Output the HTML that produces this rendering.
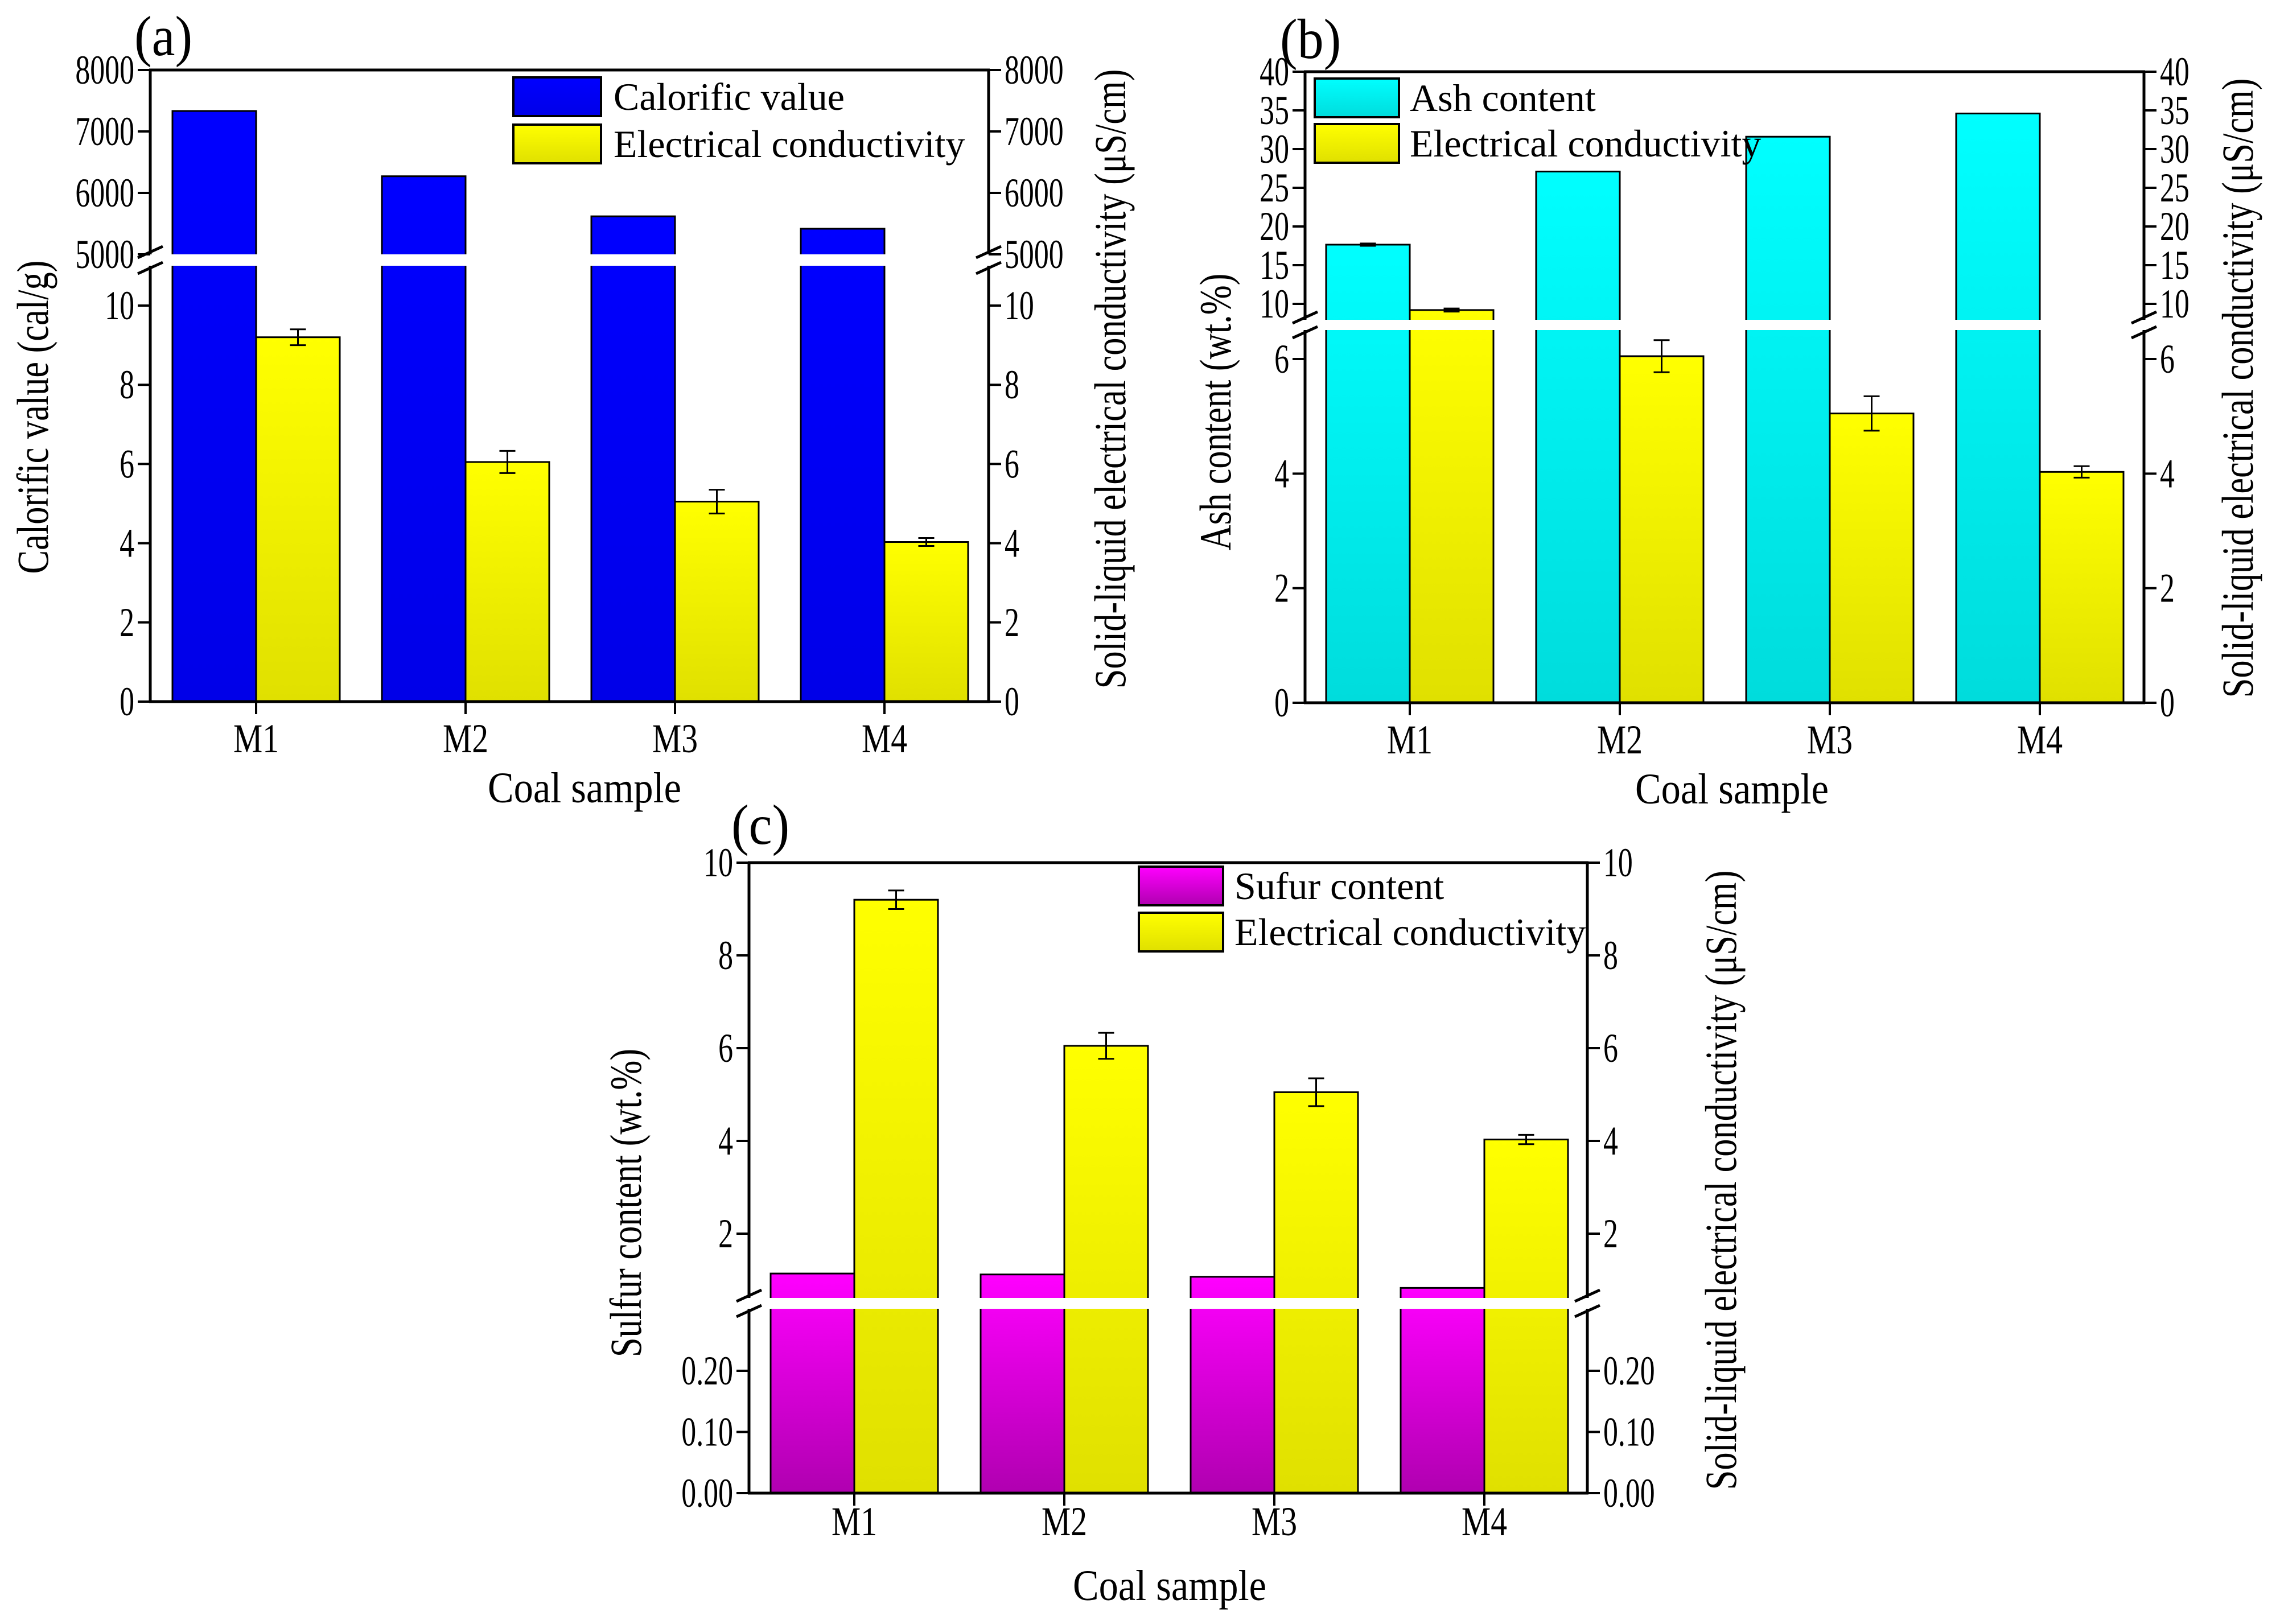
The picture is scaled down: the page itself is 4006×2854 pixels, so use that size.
<!DOCTYPE html>
<html><head><meta charset="utf-8"><style>
html,body{margin:0;padding:0;background:#fff;}
svg{display:block;font-family:"Liberation Serif",serif;}
</style></head><body>
<svg id="fig" width="4006" height="2854" viewBox="0 0 4006 2854" xmlns="http://www.w3.org/2000/svg">
<defs>
<linearGradient id="gBlue" x1="0" y1="0" x2="0" y2="1"><stop offset="0" stop-color="#0000ff"/><stop offset="1" stop-color="#0000e8"/></linearGradient>
<linearGradient id="gCyan" x1="0" y1="0" x2="0" y2="1"><stop offset="0" stop-color="#00ffff"/><stop offset="1" stop-color="#00dcdc"/></linearGradient>
<linearGradient id="gYellow" x1="0" y1="0" x2="0" y2="1"><stop offset="0" stop-color="#ffff00"/><stop offset="1" stop-color="#e0e000"/></linearGradient>
<linearGradient id="gMag" x1="0" y1="0" x2="0" y2="1"><stop offset="0" stop-color="#ff00ff"/><stop offset="1" stop-color="#b000b0"/></linearGradient>
</defs>
</svg>
<script>
// ---- data ----
const categories = ["M1","M2","M3","M4"];
const calorificValues = [7333, 6271, 5619, 5417];
const conductivityValues = [9.2, 6.05, 5.05, 4.03];
const conductivityErrors = [0.2, 0.28, 0.3, 0.1];
const ashValues = [17.65, 27.1, 31.6, 34.6];
const ashErrors = [0.15, 0, 0, 0];
const sulfurValues = [1.14, 1.12, 1.07, 0.83];
const ticksA_lower = [0,2,4,6,8,10];
const ticksA_upper = [5000,6000,7000,8000];
const ticksB_lower = [0,2,4,6];
const ticksB_upper = [10,15,20,25,30,35,40];
const ticksC_lower = [0.00,0.10,0.20];
const ticksC_upper = [2,4,6,8,10];

const NS = "http://www.w3.org/2000/svg";
const svg = document.getElementById('fig');
function mk(tag, attrs, parent){
  const e = document.createElementNS(NS, tag);
  for (const k in attrs) e.setAttribute(k, attrs[k]);
  (parent||svg).appendChild(e);
  return e;
}
function txt(s, x, y, size, anchor, parent, rot, sx){
  const t = mk('text', {x:0, y:0, 'font-size':size, 'text-anchor':anchor||'start', fill:'#000'}, parent);
  let tr = 'translate(' + x + ' ' + y + ')';
  if (rot) tr += ' rotate(-90)';
  if (sx) tr += ' scale(' + sx + ' 1)';
  t.setAttribute('transform', tr);
  t.textContent = s;
  return t;
}

function panel(cfg){
  const g = mk('g', {});
  
  
  const lin = (s, v) => s.y0 + (v - s.v0) * (s.y1 - s.y0) / (s.v1 - s.v0);
  const yOf = v => v <= cfg.split ? lin(cfg.lower, v) : lin(cfg.upper, v);
  const cx = i => cfg.cat0 + i * cfg.spacing;
  const w = cfg.barW;
  cfg.series.forEach((s, si) => {
    s.values.forEach((v, i) => {
      const x = si === 0 ? cx(i) - w : cx(i);
      const y = yOf(v);
      const r = mk('rect', {x:x, y:y, width:w, height:cfg.B - y, fill:'url(#'+s.grad+')', stroke:'#000', 'stroke-width':3}, g);
      
      
      if (s.errors && s.errors[i] > 0) {
        const ex = x + w/2, y1 = yOf(v + s.errors[i]), y2 = yOf(v - s.errors[i]);
        const eg = mk('g', {stroke:'#000', 'stroke-width':3}, g);
        
        
        mk('line', {x1:ex, x2:ex, y1:y1, y2:y2}, eg);
        mk('line', {x1:ex-14, x2:ex+14, y1:y1, y2:y1}, eg);
        mk('line', {x1:ex-14, x2:ex+14, y1:y2, y2:y2}, eg);
      }
    });
  });
  const gap = mk('rect', {x:cfg.L-30, y:cfg.gT, width:cfg.R-cfg.L+60, height:cfg.gB-cfg.gT, fill:'#fff'}, g);
  
  
  const fr = mk('g', {stroke:'#000', 'stroke-width':5, fill:'none'}, g);
  
  
  mk('line', {x1:cfg.L-2, x2:cfg.R+2, y1:cfg.T, y2:cfg.T}, fr);
  mk('line', {x1:cfg.L-2, x2:cfg.R+2, y1:cfg.B, y2:cfg.B}, fr);
  [cfg.L, cfg.R].forEach(x => {
    mk('line', {x1:x, x2:x, y1:cfg.T, y2:cfg.gT}, fr);
    mk('line', {x1:x, x2:x, y1:cfg.gB, y2:cfg.B}, fr);
    mk('line', {x1:x-22, x2:x+22, y1:cfg.gT+6, y2:cfg.gT-14}, fr);
    mk('line', {x1:x-22, x2:x+22, y1:cfg.gB+14, y2:cfg.gB-6}, fr);
  });
  const ticks = cfg.ticksLower.map(v => [v, lin(cfg.lower, v)]).concat(cfg.ticksUpper.map(v => [v, lin(cfg.upper, v)]));
  ticks.forEach(([v, y]) => {
    mk('line', {x1:cfg.L-22, x2:cfg.L, y1:y, y2:y, stroke:'#000', 'stroke-width':4}, g);
    mk('line', {x1:cfg.R, x2:cfg.R+22, y1:y, y2:y, stroke:'#000', 'stroke-width':4}, g);
    const lab = cfg.fmt(v);
    const t1 = txt(lab, cfg.L-28, y+24, 72, 'end', g, false, 0.72);
    
    
    const t2 = txt(lab, cfg.R+28, y+24, 72, 'start', g, false, 0.72);
    
    
  });
  categories.forEach((c, i) => {
    mk('line', {x1:cx(i), x2:cx(i), y1:cfg.B, y2:cfg.B+22, stroke:'#000', 'stroke-width':4}, g);
    const t = txt(c, cx(i), cfg.catY, 72, 'middle', g, false, 0.8);
    
    
  });
  const xt = txt('Coal sample', cfg.xTitle[0], cfg.xTitle[1], 76, 'middle', g, false, 0.9);
  
  
  const yl = txt(cfg.yLeft, cfg.yL[0], cfg.yL[1], 78, 'middle', g, true, 0.8);
  
  
  const yr = txt('Solid-liquid electrical conductivity (\u03bcS/cm)', cfg.yR[0], cfg.yR[1], 78, 'middle', g, true, 0.8);
  
  
  const pl = txt(cfg.label, cfg.labelPos[0], cfg.labelPos[1], 100, 'start', g, false, 0.92);
  
  
  const lg = mk('g', {}, g);
  
  
  cfg.series.forEach((s, si) => {
    const ry = cfg.leg.rows[si];
    const e = mk('g', {}, lg);
    
    
    mk('rect', {x:cfg.leg.x, y:ry, width:cfg.leg.w, height:68, fill:'url(#'+s.grad+')', stroke:'#000', 'stroke-width':4}, e);
    txt(s.label, cfg.leg.tx, ry + 57, 68, 'start', e);
  });
}

const fmt0 = v => String(v);
const fmt2 = v => v.toFixed(2);

panel({name:'panel-a', L:264, R:1737, T:123, B:1233, gT:447, gB:467,
  lower:{v0:0, y0:1233, v1:10, y1:537}, upper:{v0:5000, y0:447, v1:8000, y1:123}, split:11,
  ticksLower:ticksA_lower, ticksUpper:ticksA_upper, fmt:fmt0,
  cat0:450, spacing:368, barW:147, catY:1322,
  series:[{key:'calorific', label:'Calorific value', values:calorificValues, grad:'gBlue'},
          {key:'conductivity', label:'Electrical conductivity', values:conductivityValues, errors:conductivityErrors, grad:'gYellow'}],
  xTitle:[1027,1410], yLeft:'Calorific value (cal/g)', yL:[84,733], yR:[1977,666],
  label:'(a)', labelPos:[236,97], leg:{x:902, w:154, rows:[136,219], tx:1078}});

panel({name:'panel-b', L:2293, R:3767, T:126, B:1235, gT:562, gB:580,
  lower:{v0:0, y0:1235, v1:6, y1:631}, upper:{v0:10, y0:534, v1:40, y1:126}, split:6.51,
  ticksLower:ticksB_lower, ticksUpper:ticksB_upper, fmt:fmt0,
  cat0:2477, spacing:369, barW:147, catY:1324,
  series:[{key:'ash', label:'Ash content', values:ashValues, errors:ashErrors, grad:'gCyan'},
          {key:'conductivity', label:'Electrical conductivity', values:conductivityValues, errors:conductivityErrors, grad:'gYellow'}],
  xTitle:[3043,1412], yLeft:'Ash content (wt.%)', yL:[2162,724], yR:[3958,682],
  label:'(b)', labelPos:[2249,102], leg:{x:2310, w:148, rows:[138,218], tx:2477}});

panel({name:'panel-c', L:1316, R:2789, T:1516, B:2624, gT:2281, gB:2300,
  lower:{v0:0, y0:2624, v1:0.2, y1:2409}, upper:{v0:2, y0:2168, v1:10, y1:1516}, split:0.301,
  ticksLower:ticksC_lower, ticksUpper:ticksC_upper, fmt:v => (v < 1 ? fmt2(v) : fmt0(v)),
  cat0:1501, spacing:369, barW:147, catY:2698,
  series:[{key:'sulfur', label:'Sufur content', values:sulfurValues, grad:'gMag'},
          {key:'conductivity', label:'Electrical conductivity', values:conductivityValues, errors:conductivityErrors, grad:'gYellow'}],
  xTitle:[2055,2812], yLeft:'Sulfur content (wt.%)', yL:[1126,2114], yR:[3050,2074],
  label:'(c)', labelPos:[1285,1483], leg:{x:2001, w:148, rows:[1523,1604], tx:2169}});
</script>
</body></html>
